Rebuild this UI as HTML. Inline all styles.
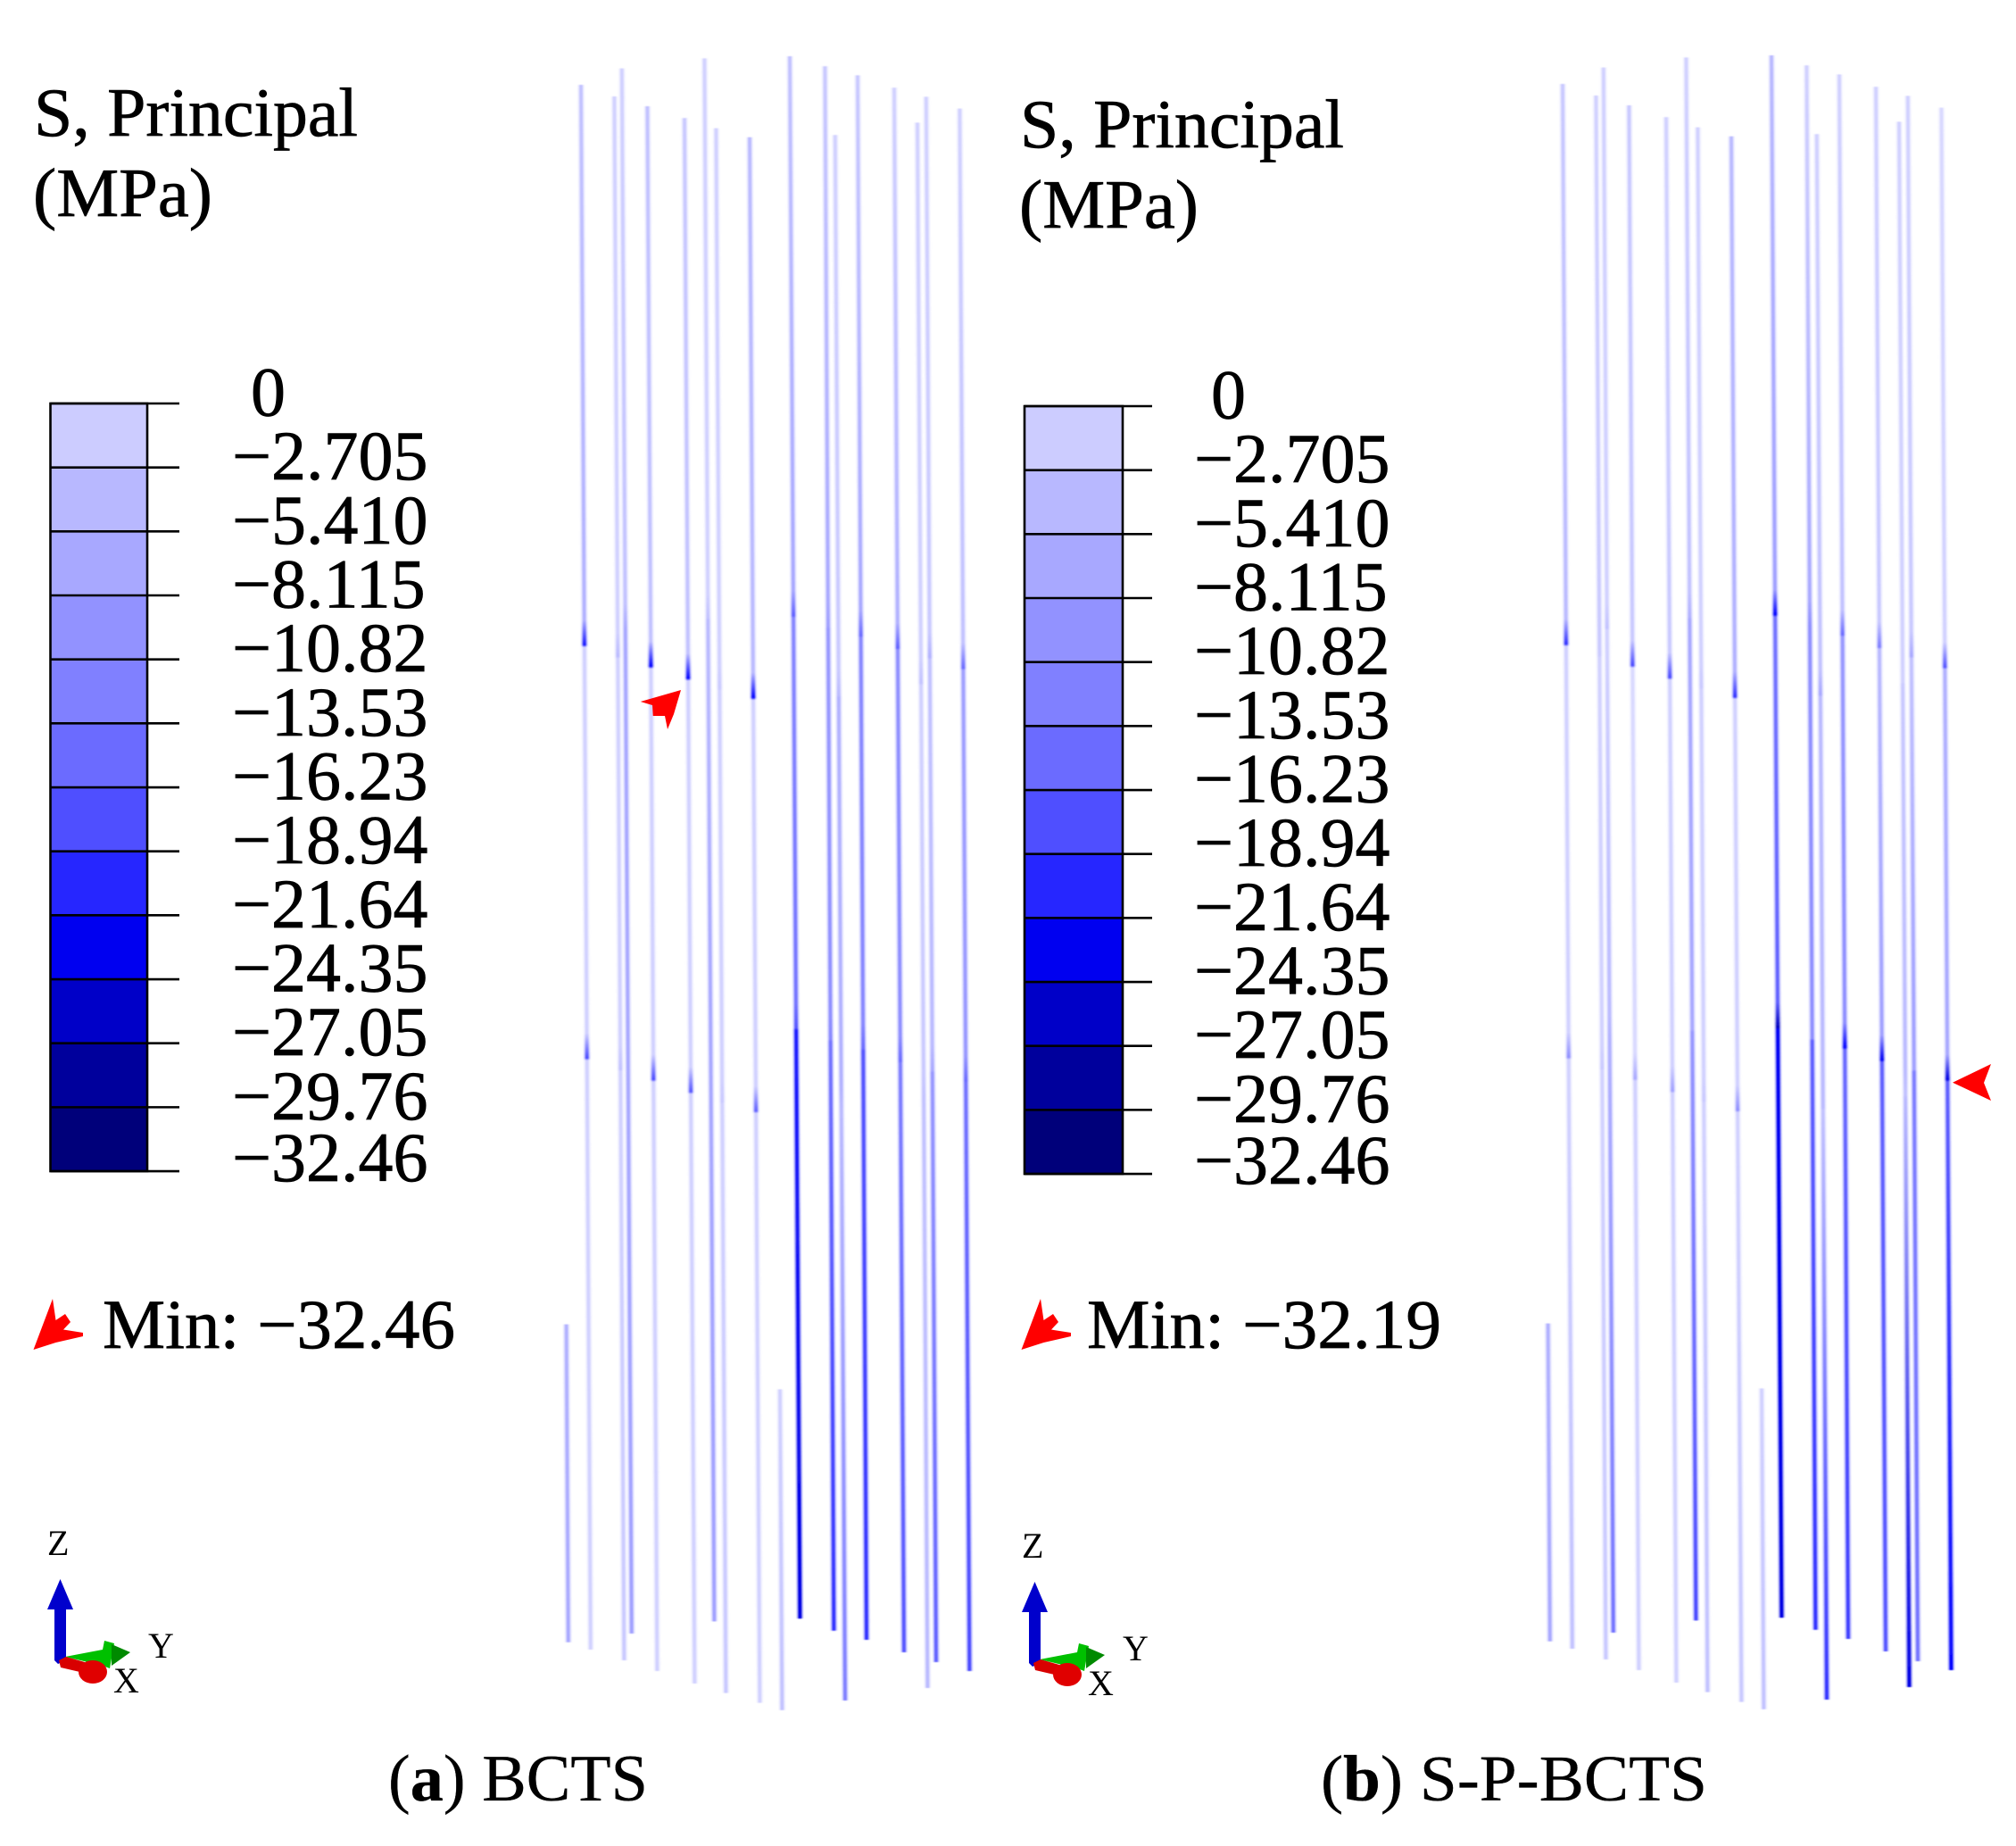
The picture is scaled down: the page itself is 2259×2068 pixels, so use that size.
<!DOCTYPE html>
<html lang="en">
<head>
<meta charset="utf-8">
<title>S, Principal stress in BCTS and S-P-BCTS</title>
<style>
html,body{margin:0;padding:0;background:#fff;}
svg{display:block;}
text{font-family:"Liberation Serif",serif;fill:#000;stroke:#000;stroke-width:0.7px;}
</style>
</head>
<body>
<svg id="figure" xmlns="http://www.w3.org/2000/svg" width="2259" height="2068" viewBox="0 0 2259 2068">
  <defs id="defs">
    <filter id="soft" x="-300%" width="700%" y="-1%" height="102%"><feGaussianBlur stdDeviation="0.9 0.6"/></filter>
  </defs>
  <rect width="2259" height="2068" fill="#fff"/>

  <g font-size="77">
    <text x="38" y="152" textLength="363" lengthAdjust="spacingAndGlyphs">S, Principal</text>
    <text x="37" y="242" textLength="201" lengthAdjust="spacingAndGlyphs">(MPa)</text>
  </g>
  <g font-size="77">
    <text x="1143" y="165" textLength="363" lengthAdjust="spacingAndGlyphs">S, Principal</text>
    <text x="1142" y="255" textLength="201" lengthAdjust="spacingAndGlyphs">(MPa)</text>
  </g>

  <g id="legendA"></g>
  <g id="legendB"></g>
  <g id="fibersA"></g>
  <g id="fibersB"></g>

  <polygon fill="#ff0000" points="763,773 717.7,786 731,790 731.7,802 745,802 748,817 755,800"/>
  <polygon fill="#ff0000" points="2188,1212.7 2231,1192 2223,1213 2231,1233"/>

  <g>
    <polygon fill="#ff0000" points="59,1455 62.5,1479 73,1472 79,1481 71,1489.5 93,1493 93,1497 62.5,1504 37.5,1512"/>
    <text x="115" y="1510" font-size="78" textLength="395" lengthAdjust="spacingAndGlyphs">Min: −32.46</text>
  </g>
  <g>
    <polygon fill="#ff0000" transform="translate(1107,0)" points="59,1455 62.5,1479 73,1472 79,1481 71,1489.5 93,1493 93,1497 62.5,1504 37.5,1512"/>
    <text x="1218" y="1510" font-size="78" textLength="397" lengthAdjust="spacingAndGlyphs">Min: −32.19</text>
  </g>

  <g>
    <polygon fill="#0000cc" points="67.5,1769 82,1803 74,1803 74,1860 65,1864 61,1860 61,1803 53,1803"/>
    <polygon fill="#00c000" points="73,1856 115,1848 117,1838 128,1841 123,1869 115,1866 90,1860"/>
    <polygon fill="#008a00" points="125,1842 146,1851 125,1866"/>
    <polygon fill="#d80000" points="66,1860 74,1856 95,1862 98,1875 68,1868"/>
    <ellipse fill="#e00000" cx="104" cy="1873" rx="16" ry="13"/>
    <text x="53" y="1742" font-size="40" style="stroke-width:0">Z</text>
    <text x="166" y="1857" font-size="40" style="stroke-width:0">Y</text>
    <text x="127" y="1896" font-size="40" style="stroke-width:0">X</text>
  </g>
  <g transform="translate(1092,3)">
    <polygon fill="#0000cc" points="67.5,1769 82,1803 74,1803 74,1860 65,1864 61,1860 61,1803 53,1803"/>
    <polygon fill="#00c000" points="73,1856 115,1848 117,1838 128,1841 123,1869 115,1866 90,1860"/>
    <polygon fill="#008a00" points="125,1842 146,1851 125,1866"/>
    <polygon fill="#d80000" points="66,1860 74,1856 95,1862 98,1875 68,1868"/>
    <ellipse fill="#e00000" cx="104" cy="1873" rx="16" ry="13"/>
    <text x="53" y="1742" font-size="40" style="stroke-width:0">Z</text>
    <text x="166" y="1857" font-size="40" style="stroke-width:0">Y</text>
    <text x="127" y="1896" font-size="40" style="stroke-width:0">X</text>
  </g>

  <text x="435" y="2017" font-size="74" textLength="291" lengthAdjust="spacingAndGlyphs" style="stroke-width:0.3px">(<tspan font-weight="bold">a</tspan>) BCTS</text>
  <text x="1480" y="2017" font-size="73" textLength="433" lengthAdjust="spacingAndGlyphs" style="stroke-width:0.3px">(<tspan font-weight="bold">b</tspan>) S-P-BCTS</text>
</svg>

<script>
// Legend data
const legendTicks = ["0","−2.705","−5.410","−8.115","−10.82","−13.53","−16.23","−18.94","−21.64","−24.35","−27.05","−29.76","−32.46"];
const legendColors = ["#ccccff","#b8b8ff","#a8a8ff","#9292ff","#8080ff","#6b6bff","#4f4fff","#2626ff","#0000f0","#0000c8","#00009c","#00007a"];

// Fiber geometry (model units)
const fiberTopX = [10.5,29.2,33.4,47.7,68.5,79.7,86.2,105,127.5,147.2,152.9,165.5,186,199,203.9,222.7];
const fiberBottomX = [15.9,34.7,38.9,53.2,74.2,85.2,91.7,110.7,133.2,152.2,158.5,170.5,191.5,204.7,209.5,228.2];
const fiberTopZ = [902.5,896,911.7,890.5,883.9,917.3,878.2,873.1,918.5,912.9,874.4,907.8,900.9,881.3,895.8,889.2];
const fiberBottomZ = [26,20,35,14,7,41.8,1.7,-3.8,43.4,36.6,-2.5,31.5,24.5,4.5,19,14];
const shortTopX = [2.3,122];
const shortBottomX = [3.4,123.2];
const shortTopZ = [208.2,171.8];
const shortBottomZ = [30.1,-7.9];

// Fractions along each fiber where stress is sampled
const stations = [0,0.342,0.358,0.3595,0.606,0.622,0.6235,1];

// Stress (MPa) at each station, panel a
const stressA = [
  [-5,-7,-22,-3,-3,-18,-3,-3],
  [-3,-3,-6,-3,-3,-5,-3,-4],
  [-3,-5,-8,-8,-8,-8,-8,-9],
  [-5,-5,-24,-3,-3,-18,-3,-3],
  [-4,-5,-24,-3,-3,-17,-3,-3],
  [-3,-3,-5,-6,-8,-8,-8,-9],
  [-3,-3,-4,-3,-3,-4,-3,-4],
  [-6,-6,-24,-3,-3,-16,-3,-3],
  [-5,-8,-16,-12,-14,-17,-22,-26],
  [-4,-8,-9,-10,-11,-12,-14,-20],
  [-3,-4,-6,-7,-7,-6,-6,-13],
  [-4,-8,-15,-12,-12,-15,-17,-20],
  [-3,-7,-16,-11,-11,-15,-13,-17],
  [-3,-3,-5,-3,-4,-5,-5,-6],
  [-3,-4,-7,-5,-6,-8,-10,-16],
  [-3,-5,-15,-9,-10,-15,-14,-18]
];
// Stress (MPa) at each station, panel b
const stressB = [
  [-4,-6,-20,-3,-3,-11,-3,-5],
  [-3,-4,-4,-3,-3,-4,-3,-4],
  [-3,-3,-5,-3,-6,-7,-7,-14],
  [-4,-4,-18,-2,-2,-8,-3,-3],
  [-3,-4,-18,-3,-3,-9,-3,-3],
  [-3,-5,-7,-8,-8,-8,-10,-18],
  [-3,-3,-4,-3,-3,-4,-3,-5],
  [-6,-7,-20,-3,-3,-11,-3,-4],
  [-6,-9,-24,-14,-16,-28,-25,-26],
  [-3,-8,-11,-11,-11,-11,-16,-20],
  [-3,-5,-8,-6,-6,-6,-5,-20],
  [-3,-5,-15,-10,-11,-24,-15,-19],
  [-3,-4,-13,-6,-9,-25,-16,-17],
  [-3,-3,-3,-4,-6,-5,-6,-26],
  [-3,-4,-8,-5,-9,-9,-13,-14],
  [-2,-3,-17,-7,-8,-26,-16,-24]
];
// Stress at the two ends of the short fibers
const shortStressA = [[-7,-8],[-3,-5]];
const shortStressB = [[-7,-8],[-3,-5]];

const ramp = [[232,232,255],[212,212,255],[192,192,255],[168,168,255],[146,146,255],[122,122,255],[96,96,255],[64,64,255],[32,32,255],[0,0,255],[0,0,208],[0,0,160],[0,0,128]];
const NS = "http://www.w3.org/2000/svg";
const defs = document.getElementById("defs");

function colorFor(v){
  const t = Math.max(0, Math.min(12, -v / 2.705));
  const i = Math.min(11, Math.floor(t)), f = t - i;
  const c = ramp[i].map((a, k) => Math.round(a + (ramp[i + 1][k] - a) * f));
  return "rgb(" + c.join(",") + ")";
}
function make(tag, attrs, parent){
  const el = document.createElementNS(NS, tag);
  for (const k in attrs) el.setAttribute(k, attrs[k]);
  parent.appendChild(el);
  return el;
}

function drawLegend(groupId, barLeft, barRight, tickRight, tickTop, negX, zeroX){
  const g = document.getElementById(groupId);
  const tickY = i => tickTop + i * 71.67;
  legendColors.forEach((c, i) => {
    const r = make("rect", {x: barLeft, y: tickY(i), width: barRight - barLeft, height: tickY(i + 1) - tickY(i), fill: c}, g);
    
    
  });
  const frame = make("rect", {x: barLeft, y: tickY(0), width: barRight - barLeft, height: tickY(12) - tickY(0), fill: "none", stroke: "#000", "stroke-width": 2.6}, g);
  
  
  legendTicks.forEach((label, i) => {
    const line = make("line", {x1: barLeft, x2: tickRight, y1: tickY(i), y2: tickY(i), stroke: "#000", "stroke-width": 2.6}, g);
    
    
    const off = i === 12 ? 11 : 13.5;
    const t = make("text", {x: i === 0 ? zeroX : negX, y: tickY(i) + off, "font-size": 78}, g);
    
    
    t.textContent = label;
  });
}

function drawFibers(groupId, prefix, originX, originY, stress, shortStress){
  const g = document.getElementById(groupId);
  g.setAttribute("filter", "url(#soft)");
  const xScale = v => originX + 630 + v * 2;
  const zScale = v => originY + 1900 - v * 2;
  function fiber(id, x1, y1, x2, y2, fracs, vals){
    const grad = make("linearGradient", {id: id, gradientUnits: "userSpaceOnUse", x1: x1, y1: y1, x2: x2, y2: y2}, defs);
    vals.forEach((v, i) => make("stop", {offset: fracs[i], "stop-color": colorFor(v)}, grad));
    const halo = make("line", {x1: x1, y1: y1, x2: x2, y2: y2, stroke: "url(#" + id + ")", "stroke-width": 7.5, opacity: 0.3}, g);
    
    
    const core = make("line", {x1: x1, y1: y1, x2: x2, y2: y2, stroke: "url(#" + id + ")", "stroke-width": 3.8}, g);
    
    
  }
  fiberTopX.forEach((_, i) => {
    fiber(prefix + i, xScale(fiberTopX[i]), zScale(fiberTopZ[i]), xScale(fiberBottomX[i]), zScale(fiberBottomZ[i]), stations, stress[i]);
  });
  shortTopX.forEach((_, i) => {
    fiber(prefix + "s" + i, xScale(shortTopX[i]), zScale(shortTopZ[i]), xScale(shortBottomX[i]), zScale(shortBottomZ[i]), [0, 1], shortStress[i]);
  });
}

drawLegend("legendA", 56.5, 165, 201, 452, 260, 281);
drawLegend("legendB", 1148, 1258, 1291, 455, 1338, 1357);
drawFibers("fibersA", "fa", 0, 0, stressA, shortStressA);
drawFibers("fibersB", "fb", 1100, -1, stressB, shortStressB);
</script>
</body>
</html>
